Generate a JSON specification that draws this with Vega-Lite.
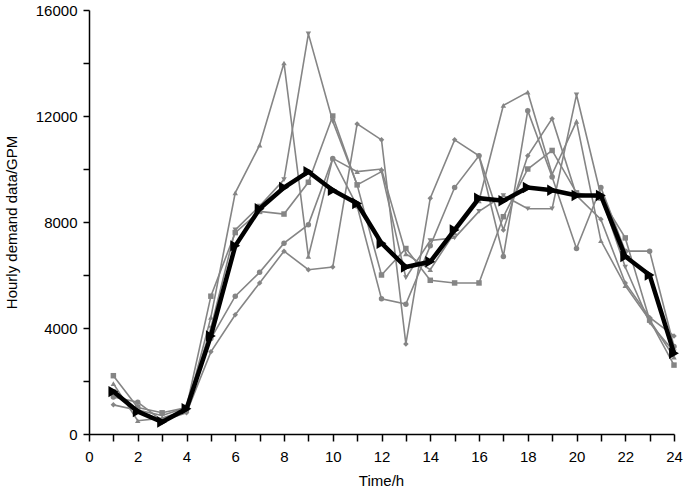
{
  "$schema": "https://vega.github.io/schema/vega-lite/v6.json",
  "width": 585,
  "height": 424,
  "autosize": {"type": "none"},
  "padding": {"left": 89, "top": 10, "right": 11, "bottom": 60},
  "background": "white",
  "config": {
    "font": "Liberation Sans",
    "view": {"stroke": null},
    "axis": {
      "grid": false,
      "domainColor": "black",
      "domainWidth": 1.5,
      "tickColor": "black",
      "tickWidth": 1.5,
      "labelColor": "black",
      "titleColor": "black",
      "labelFont": "Liberation Sans",
      "titleFont": "Liberation Sans",
      "labelFontSize": 15,
      "titleFontSize": 15,
      "titleFontWeight": "normal"
    }
  },
  "datasets": {
    "gray": [
      {"h":1,"v":1900,"s":"S1"},{"h":2,"v":500,"s":"S1"},{"h":3,"v":600,"s":"S1"},{"h":4,"v":900,"s":"S1"},{"h":5,"v":4400,"s":"S1"},{"h":6,"v":9100,"s":"S1"},{"h":7,"v":10900,"s":"S1"},{"h":8,"v":14000,"s":"S1"},{"h":9,"v":6700,"s":"S1"},{"h":10,"v":10400,"s":"S1"},{"h":11,"v":9900,"s":"S1"},{"h":12,"v":10000,"s":"S1"},{"h":13,"v":6800,"s":"S1"},{"h":14,"v":6200,"s":"S1"},{"h":15,"v":7600,"s":"S1"},{"h":16,"v":8800,"s":"S1"},{"h":17,"v":12400,"s":"S1"},{"h":18,"v":12900,"s":"S1"},{"h":19,"v":9800,"s":"S1"},{"h":20,"v":11800,"s":"S1"},{"h":21,"v":7300,"s":"S1"},{"h":22,"v":5600,"s":"S1"},{"h":23,"v":4300,"s":"S1"},{"h":24,"v":2900,"s":"S1"},
      {"h":1,"v":1600,"s":"S2"},{"h":2,"v":900,"s":"S2"},{"h":3,"v":700,"s":"S2"},{"h":4,"v":1000,"s":"S2"},{"h":5,"v":4000,"s":"S2"},{"h":6,"v":7700,"s":"S2"},{"h":7,"v":8600,"s":"S2"},{"h":8,"v":9600,"s":"S2"},{"h":9,"v":15100,"s":"S2"},{"h":10,"v":11800,"s":"S2"},{"h":11,"v":9400,"s":"S2"},{"h":12,"v":9900,"s":"S2"},{"h":13,"v":5900,"s":"S2"},{"h":14,"v":7300,"s":"S2"},{"h":15,"v":7400,"s":"S2"},{"h":16,"v":8400,"s":"S2"},{"h":17,"v":9000,"s":"S2"},{"h":18,"v":8500,"s":"S2"},{"h":19,"v":8500,"s":"S2"},{"h":20,"v":12800,"s":"S2"},{"h":21,"v":9000,"s":"S2"},{"h":22,"v":6300,"s":"S2"},{"h":23,"v":4200,"s":"S2"},{"h":24,"v":3100,"s":"S2"},
      {"h":1,"v":2200,"s":"S3"},{"h":2,"v":1000,"s":"S3"},{"h":3,"v":800,"s":"S3"},{"h":4,"v":1000,"s":"S3"},{"h":5,"v":5200,"s":"S3"},{"h":6,"v":7600,"s":"S3"},{"h":7,"v":8400,"s":"S3"},{"h":8,"v":8300,"s":"S3"},{"h":9,"v":9500,"s":"S3"},{"h":10,"v":12000,"s":"S3"},{"h":11,"v":9400,"s":"S3"},{"h":12,"v":6000,"s":"S3"},{"h":13,"v":7000,"s":"S3"},{"h":14,"v":5800,"s":"S3"},{"h":15,"v":5700,"s":"S3"},{"h":16,"v":5700,"s":"S3"},{"h":17,"v":8200,"s":"S3"},{"h":18,"v":10000,"s":"S3"},{"h":19,"v":10700,"s":"S3"},{"h":20,"v":9100,"s":"S3"},{"h":21,"v":8900,"s":"S3"},{"h":22,"v":7400,"s":"S3"},{"h":23,"v":4300,"s":"S3"},{"h":24,"v":2600,"s":"S3"},
      {"h":1,"v":1400,"s":"S4"},{"h":2,"v":1200,"s":"S4"},{"h":3,"v":500,"s":"S4"},{"h":4,"v":900,"s":"S4"},{"h":5,"v":3600,"s":"S4"},{"h":6,"v":5200,"s":"S4"},{"h":7,"v":6100,"s":"S4"},{"h":8,"v":7200,"s":"S4"},{"h":9,"v":7900,"s":"S4"},{"h":10,"v":10400,"s":"S4"},{"h":11,"v":8600,"s":"S4"},{"h":12,"v":5100,"s":"S4"},{"h":13,"v":4900,"s":"S4"},{"h":14,"v":7100,"s":"S4"},{"h":15,"v":9300,"s":"S4"},{"h":16,"v":10500,"s":"S4"},{"h":17,"v":6700,"s":"S4"},{"h":18,"v":12200,"s":"S4"},{"h":19,"v":9700,"s":"S4"},{"h":20,"v":7000,"s":"S4"},{"h":21,"v":9300,"s":"S4"},{"h":22,"v":6900,"s":"S4"},{"h":23,"v":6900,"s":"S4"},{"h":24,"v":3300,"s":"S4"},
      {"h":1,"v":1100,"s":"S5"},{"h":2,"v":900,"s":"S5"},{"h":3,"v":500,"s":"S5"},{"h":4,"v":800,"s":"S5"},{"h":5,"v":3100,"s":"S5"},{"h":6,"v":4500,"s":"S5"},{"h":7,"v":5700,"s":"S5"},{"h":8,"v":6900,"s":"S5"},{"h":9,"v":6200,"s":"S5"},{"h":10,"v":6300,"s":"S5"},{"h":11,"v":11700,"s":"S5"},{"h":12,"v":11100,"s":"S5"},{"h":13,"v":3400,"s":"S5"},{"h":14,"v":8900,"s":"S5"},{"h":15,"v":11100,"s":"S5"},{"h":16,"v":10500,"s":"S5"},{"h":17,"v":7700,"s":"S5"},{"h":18,"v":10500,"s":"S5"},{"h":19,"v":11900,"s":"S5"},{"h":20,"v":9000,"s":"S5"},{"h":21,"v":8100,"s":"S5"},{"h":22,"v":5700,"s":"S5"},{"h":23,"v":4400,"s":"S5"},{"h":24,"v":3700,"s":"S5"}
    ],
    "avg": [
      {"h":1,"v":1600},{"h":2,"v":850},{"h":3,"v":450},{"h":4,"v":950},{"h":5,"v":3700},{"h":6,"v":7100},{"h":7,"v":8500},{"h":8,"v":9300},{"h":9,"v":9900},{"h":10,"v":9200},{"h":11,"v":8700},{"h":12,"v":7200},{"h":13,"v":6300},{"h":14,"v":6500},{"h":15,"v":7700},{"h":16,"v":8900},{"h":17,"v":8800},{"h":18,"v":9300},{"h":19,"v":9200},{"h":20,"v":9000},{"h":21,"v":9000},{"h":22,"v":6700},{"h":23,"v":6000},{"h":24,"v":3050}
    ]
  },
  "encoding": {
    "x": {
      "field": "h", "type": "quantitative",
      "scale": {"domain": [0, 24], "nice": false, "zero": false},
      "axis": {
        "title": "Time/h",
        "values": [0,1,2,3,4,5,6,7,8,9,10,11,12,13,14,15,16,17,18,19,20,21,22,23,24],
        "labelExpr": "datum.value % 2 == 0 ? datum.label : ''",
        "tickSize": 7,
        "labelPadding": 8,
        "labelFlush": false,
        "labelOverlap": false,
        "titleX": 292,
        "titleY": 46,
        "titleBaseline": "middle",
        "titleAlign": "center"
      }
    },
    "y": {
      "field": "v", "type": "quantitative",
      "scale": {"domain": [0, 16000], "nice": false},
      "axis": {
        "title": "Hourly demand data/GPM",
        "values": [0,2000,4000,6000,8000,10000,12000,14000,16000],
        "labelExpr": "datum.value % 4000 == 0 ? replace(datum.label, ',', '') : ''",
        "tickSize": 6,
        "labelPadding": 6,
        "labelFlush": false,
        "labelOverlap": false,
        "titleX": -78,
        "titleY": 212,
        "titleAngle": -90,
        "titleBaseline": "middle",
        "titleAlign": "center"
      }
    }
  },
  "layer": [
    {
      "data": {"name": "gray"},
      "mark": {"type": "line", "color": "#858585", "strokeWidth": 1.6},
      "encoding": {"detail": {"field": "s"}}
    },
    {
      "data": {"name": "gray"},
      "mark": {"type": "point", "filled": true, "color": "#858585", "opacity": 1, "size": 30},
      "encoding": {
        "shape": {
          "field": "s", "type": "nominal",
          "scale": {"domain": ["S1","S2","S3","S4","S5"], "range": ["triangle-up","triangle-down","square","circle","diamond"]},
          "legend": null
        }
      }
    },
    {
      "data": {"name": "avg"},
      "mark": {"type": "line", "color": "black", "strokeWidth": 4.5},
      "encoding": {}
    },
    {
      "data": {"name": "avg"},
      "mark": {"type": "point", "filled": true, "color": "black", "opacity": 1, "size": 130, "shape": "triangle-right"},
      "encoding": {}
    }
  ]
}
